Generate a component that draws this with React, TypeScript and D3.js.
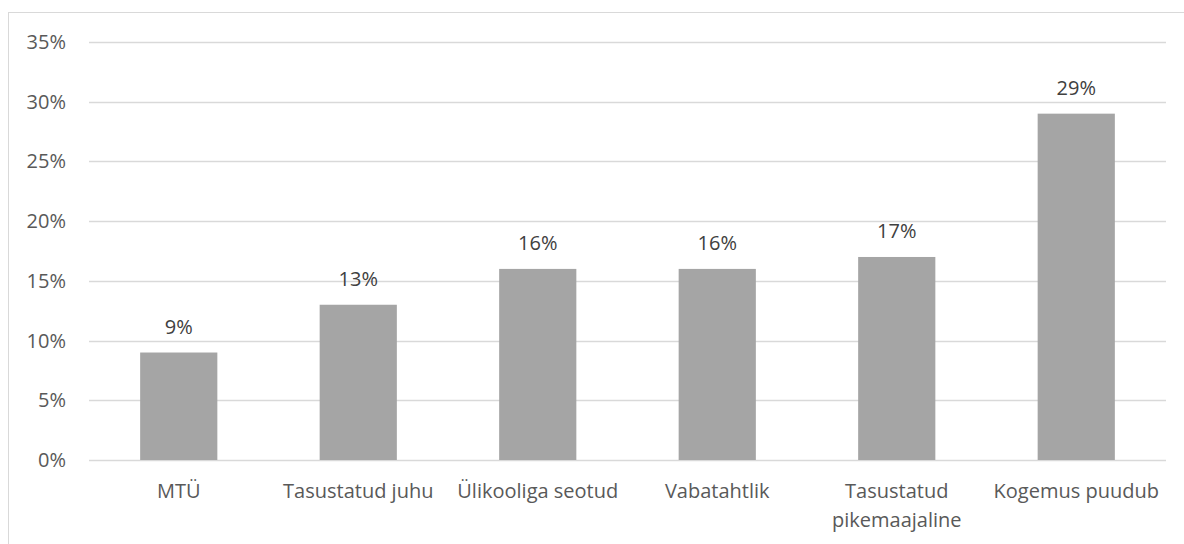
import React from "react";
import * as d3 from "d3";

const categories: string[][] = [
  ["MTÜ"],
  ["Tasustatud juhu"],
  ["Ülikooliga seotud"],
  ["Vabatahtlik"],
  ["Tasustatud", "pikemaajaline"],
  ["Kogemus puudub"],
];
const values: number[] = [0.09, 0.13, 0.16, 0.16, 0.17, 0.29];
const yTicks: number[] = [0, 0.05, 0.1, 0.15, 0.2, 0.25, 0.3, 0.35];

const W = 1184;
const H = 544;
const left = 89;
const right = 1166;
const top = 42;
const bottom = 460;
const font = "'Open Sans', sans-serif";
const fs = 20;

export default function App() {
  const x = d3
    .scaleBand<number>()
    .domain(values.map((_, i) => i))
    .range([left, right])
    .paddingInner(0.57)
    .paddingOuter(0.285);
  const y = d3.scaleLinear().domain([0, 0.35]).range([bottom, top]);
  const fmt = d3.format(".0%");
  const step = x.step();

  return (
    <svg
      width={W}
      height={H}
      style={{ position: "absolute", left: 0, top: 0, background: "#fff" }}
      fontFamily={font}
    >
      <rect x={8.5} y={12.5} width={W + 10} height={H + 10} fill="#fff" stroke="#D9D9D9" strokeWidth={1} />
      {yTicks.map((t) => (
        <g key={t}>
          <line x1={left} x2={right} y1={Math.round(y(t)) + 0.5} y2={Math.round(y(t)) + 0.5} stroke="#D9D9D9" strokeWidth={1.3} />
          <text x={66} y={y(t)} dy="0.35em" textAnchor="end" fontSize={fs} fill="#595959">
            {fmt(t)}
          </text>
        </g>
      ))}
      {values.map((v, i) => (
        <g key={i}>
          <rect x={x(i)} y={y(v)} width={x.bandwidth()} height={bottom - y(v)} fill="#A5A5A5" />
          <text x={x(i)! + x.bandwidth() / 2} y={y(v) - 19} textAnchor="middle" fontSize={fs} fill="#404040">
            {fmt(v)}
          </text>
        </g>
      ))}
      {categories.map((lines, i) => (
        <text key={i} textAnchor="middle" fontSize={fs} fill="#595959">
          {lines.map((l, j) => (
            <tspan key={j} x={left + step * (i + 0.5)} y={498 + j * 29}>
              {l}
            </tspan>
          ))}
        </text>
      ))}
    </svg>
  );
}
